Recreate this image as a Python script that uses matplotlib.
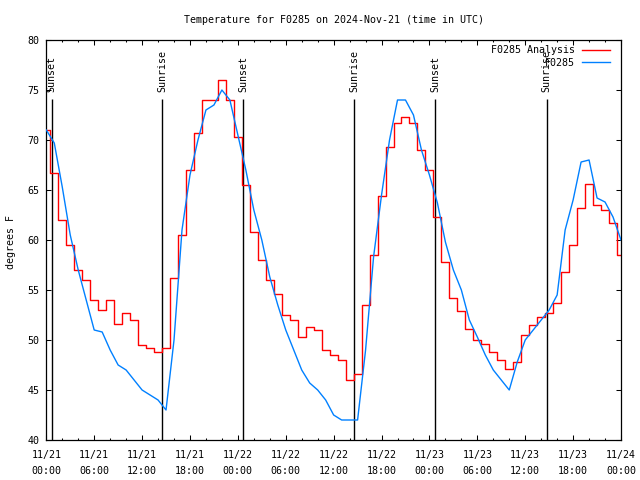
import matplotlib
matplotlib.use("Agg")
import matplotlib.pyplot as plt
import matplotlib.dates as mdates
import pandas as pd

# --- data: hourly temperatures (deg F) starting 2024-11-21 00:00 UTC ---
START = "2024-11-21 00:00"
END = "2024-11-24 00:00"

analysis_f = [
    71, 66.7, 62, 59.5, 57, 56, 54, 53, 54, 51.6, 52.7, 52, 49.5, 49.2, 48.8, 49.2,
    56.2, 60.5, 67, 70.7, 74, 74, 76, 74,
    70.3, 65.5, 60.8, 58, 56, 54.6, 52.5, 52, 50.3, 51.3, 51, 49, 48.5, 48, 46, 46.6,
    53.5, 58.5, 64.4, 69.3, 71.7, 72.3, 71.7, 69,
    67, 62.3, 57.8, 54.2, 52.9, 51.1, 50, 49.6, 48.8, 48, 47.1, 47.8, 50.5, 51.5,
    52.3, 52.7, 53.7, 56.8, 59.5, 63.2, 65.6, 63.5, 63, 61.7, 58.5,
]
observed_f = [
    71, 69.7, 65.3, 60.5, 57, 54, 51, 50.8, 49, 47.5, 47, 46, 45, 44.5, 44, 43,
    50, 61, 66.5, 70, 73, 73.5, 75, 74,
    70.5, 67, 63, 60, 56.3, 53.5, 51, 49, 47, 45.7, 45, 44, 42.5, 42, 42, 42,
    49, 58.3, 64.5, 70, 74, 74, 72.5, 69,
    66.5, 63.7, 59.8, 57, 55, 52, 50.3, 48.5, 47, 46, 45, 47.8, 50, 51,
    52, 53, 54.5, 61, 64, 67.8, 68, 64.2, 63.8, 62.3, 60,
]

sun_times = ["2024-11-21 00:41", "2024-11-21 14:32", "2024-11-22 00:41",
             "2024-11-22 14:36", "2024-11-23 00:45", "2024-11-23 14:40"]
sun_labels = ["Sunset", "Sunrise", "Sunset", "Sunrise", "Sunset", "Sunrise"]

times = pd.date_range(START, periods=len(observed_f), freq="h")
sun_dt = pd.to_datetime(sun_times)

plt.rcParams["font.family"] = "DejaVu Sans Mono"
plt.rcParams["font.size"] = 7.2

fig = plt.figure(figsize=(6.4, 4.8), dpi=100)
ax = fig.add_axes([46.3 / 640, 40 / 480, (621 - 46.3) / 640, 400 / 480])

# sunrise / sunset markers
ax.vlines(sun_dt, 40, 74.1, color="black", linewidth=1.0, zorder=1)
for t, lab in zip(sun_dt, sun_labels):
    ax.text(t, 74.8, lab, rotation=90, ha="center", va="bottom")

ax.plot(times, analysis_f, color="#ff0000", linewidth=1.0,
        drawstyle="steps-mid", label="F0285 Analysis", zorder=2)
ax.plot(times, observed_f, color="#0080ff", linewidth=1.0,
        label="F0285", zorder=3)

ax.set_xlim(pd.Timestamp(START), pd.Timestamp(END))
ax.set_ylim(40, 80)
ax.set_yticks(range(40, 81, 5))
ax.xaxis.set_major_locator(mdates.HourLocator(byhour=range(0, 24, 6)))
ax.xaxis.set_minor_locator(mdates.HourLocator(interval=2))
ax.xaxis.set_major_formatter(mdates.DateFormatter("%m/%d\n%H:%M"))

ax.tick_params(which="both", direction="in", top=True, right=True, width=0.75)
ax.tick_params(which="major", length=3.3, pad=5)
ax.tick_params(axis="x", which="major", pad=7)
ax.tick_params(which="minor", length=1.6)
for s in ax.spines.values():
    s.set_linewidth(0.9)

ax.legend(loc="upper right", bbox_to_anchor=(610 / 640, 1 - 45 / 480),
          bbox_transform=fig.transFigure, frameon=False, markerfirst=False,
          handlelength=2.8, handletextpad=0.7, borderpad=0, borderaxespad=0,
          labelspacing=0.25)

fig.text(333.6 / 640, 1 - 20 / 480,
         "Temperature for F0285 on 2024-Nov-21 (time in UTC)",
         ha="center", va="center")
fig.text(11 / 640, 1 - 242 / 480, "degrees F", rotation=90,
         ha="center", va="center")

fig.canvas.draw()
for lbl in ax.get_xticklabels():
    lbl.set_linespacing(1.75)

fig.savefig("out.png", dpi=100)
